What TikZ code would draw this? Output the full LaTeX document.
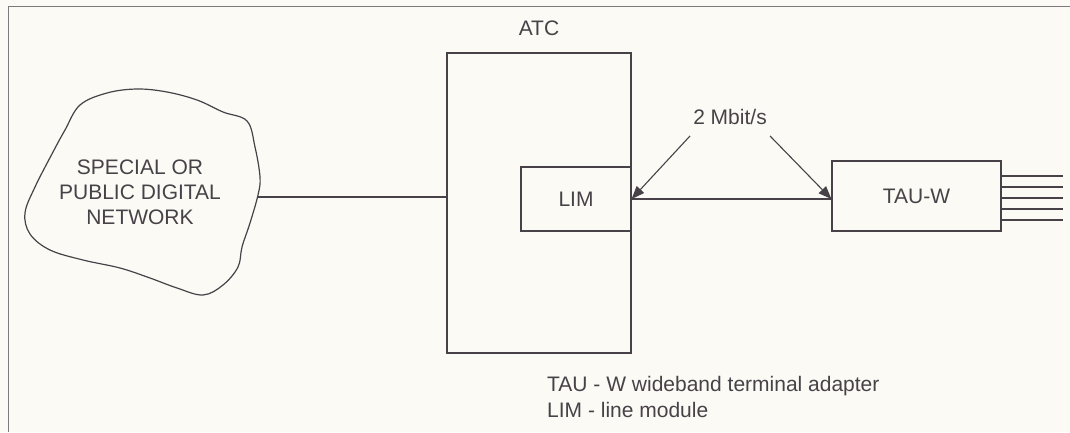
\documentclass[tikz,border=0pt]{standalone}
\usepackage{fontspec}
\setmainfont{Liberation Sans}
\usetikzlibrary{positioning,arrows.meta}
\definecolor{ink}{RGB}{72,66,72}
\definecolor{paper}{RGB}{251,250,245}
\definecolor{rule}{RGB}{125,120,125}
\tikzset{
  blk/.style={draw=ink, line width=1.2pt, font=\fontsize{21}{25}\selectfont, text=ink, inner sep=3pt},
  lbl/.style={font=\fontsize{21}{25}\selectfont, text=ink, inner sep=3pt},
  wire/.style={draw=ink, line width=1.2pt},
  ra/.style={-{Triangle[length=13pt,width=10pt]}, ink, line width=1.1pt},
}

\begin{document}
\begin{tikzpicture}[x=1pt, y=-1pt, node distance=13pt]
\fill[paper] (0,0) rectangle (1070,432);
\useasboundingbox (0,0) rectangle (1070,432);
%% ---- the frame (only top and left show)
\draw[rule, line width=1pt] (8,432) -- (8,6) -- (1070,6);

%% ---- the network, a cloud
\draw[wire] plot[smooth cycle, tension=0.6] coordinates {
  (53,152) (65,130) (80,105) (107,93) (137,89) (167,92) (197,100) (223,112)
  (247,121) (255,147) (260,177) (258,195) (250,223) (242,247) (238,267)
  (223,285) (203,295) (177,288) (150,278) (120,268) (83,260) (50,250)
  (30,234) (25,213) (35,187)};
\node[lbl, align=center] (net) at (140,192) {SPECIAL OR\\PUBLIC DIGITAL\\NETWORK};
\coordinate (netE) at (258,197);

%% ---- exchange and its line module
\node[blk, minimum width=184pt, minimum height=300pt] (atc) at (539,203) {};
\node[lbl, above=13pt of atc] (atcLbl) {ATC};
\coordinate (mid) at (0,199);
\node[blk, minimum width=110pt, minimum height=64pt, anchor=east] (lim) at (atc.east |- mid) {LIM};

%% ---- wideband terminal adapter
\node[blk, minimum width=169pt, minimum height=70pt] (tau) at (916.5,196) {TAU-W};

\draw[wire] (netE) -- (atc.west |- netE);
\draw[wire] (lim.east) -- (tau.west |- lim.east);
\foreach \y [count=\i] in {176,187,198,209,220} {
  \coordinate (out\i) at (1063,\y);
  \draw[wire] (tau.east |- out\i) -- (out\i);
}

%% ---- the 2 Mbit/s link
\node[lbl] (rate) at (730,117) {2 Mbit/s};
\draw[ra] ([yshift=-8pt]rate.south west) -- (lim.east);
\draw[ra] ([yshift=-8pt]rate.south east) -- (tau.west |- lim.east);

%% ---- key
\node[lbl, anchor=base west] (keyTau) at (544,391.7) {TAU - W wideband terminal adapter};
\node[lbl, anchor=base west] (keyLim) at (544,417.3) {LIM - line module};
\end{tikzpicture}
\end{document}
